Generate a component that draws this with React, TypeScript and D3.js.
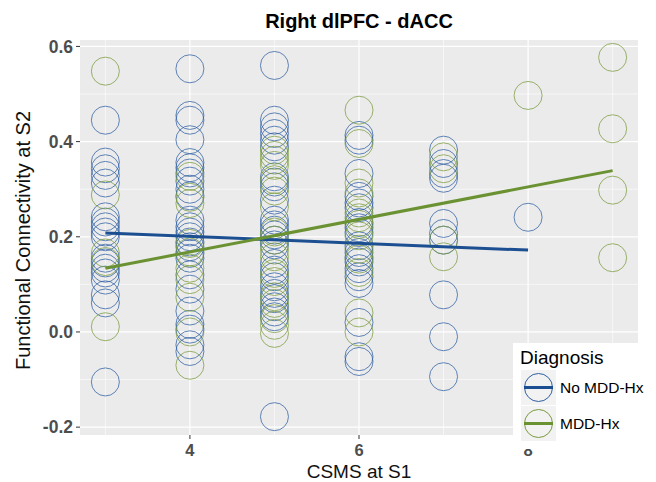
import React from "react";
import * as d3 from "d3";

// CSMS at S1 levels (x) and FC at S2 per level, one list per diagnosis group
const csmsLevels = [3, 4, 5, 6, 7, 8, 9];

const noMddFc = [
  [0.445, 0.357, 0.343, 0.329, 0.313, 0.242, 0.231, 0.221, 0.21, 0.2, 0.155, 0.145, 0.134, 0.124, 0.109, 0.078, 0.061, -0.105],
  [0.553, 0.455, 0.445, 0.404, 0.356, 0.345, 0.334, 0.317, 0.3, 0.286, 0.235, 0.221, 0.21, 0.2, 0.189, 0.179, 0.165, 0.155, 0.12, 0.09, 0.044, 0.016, 0.006, -0.027, -0.041],
  [0.56, 0.445, 0.431, 0.417, 0.403, 0.389, 0.326, 0.315, 0.305, 0.277, 0.235, 0.225, 0.214, 0.204, 0.193, 0.183, 0.144, 0.13, 0.116, 0.095, 0.081, 0.07, 0.053, 0.042, 0.032, -0.178],
  [0.413, 0.403, 0.333, 0.285, 0.271, 0.261, 0.23, 0.219, 0.209, 0.181, 0.167, 0.157, 0.147, 0.133, 0.116, 0.102, 0.02, -0.052, -0.062],
  [0.382, 0.354, 0.333, 0.323, 0.228, 0.207, 0.193, 0.078, -0.01, -0.094],
  [0.241],
  [],
];

const mddFc = [
  [0.548, 0.288, 0.166, 0.148, 0.011],
  [0.327, 0.283, 0.27, 0.186, 0.168, 0.134, 0.11, 0.073, 0.0, -0.07],
  [0.382, 0.371, 0.361, 0.35, 0.32, 0.296, 0.263, 0.21, 0.193, 0.172, 0.158, 0.123, 0.106, 0.074, 0.06, 0.028, 0.014, -0.003],
  [0.466, 0.396, 0.313, 0.292, 0.25, 0.24, 0.226, 0.202, 0.174, 0.153, 0.125, 0.04, 0.0],
  [0.368, 0.343, 0.193, 0.158],
  [0.497],
  [0.577, 0.427, 0.298, 0.156],
];

// fitted lines (endpoints)
const noMddFitX = [3, 8];
const noMddFitY = [0.208, 0.172];
const mddFitX = [3, 9];
const mddFitY = [0.134, 0.339];

const xTicks = [4, 6, 8];
const xMinor = [3, 5, 7, 9];
const yTicks = [-0.2, 0.0, 0.2, 0.4, 0.6];
const yMinor = [-0.1, 0.1, 0.3, 0.5];

const groups = ["No MDD-Hx", "MDD-Hx"];
const pointColors = ["#2f5fa3", "#7a9b3c"];
const lineColors = ["#1c4f91", "#6b9232"];

const W = 656, H = 482;
const panel = {left: 80, top: 40, right: 638, bottom: 435};

export default function App() {
  const x = d3.scaleLinear().domain([2.7, 9.3]).range([panel.left, panel.right]);
  const y = d3.scaleLinear().domain([-0.2165, 0.6135]).range([panel.bottom, panel.top]);

  const pts = (fc: number[][]) =>
    fc.flatMap((vals, i) => vals.map(v => ({cx: x(csmsLevels[i]), cy: y(v)})));
  const noMddPts = pts(noMddFc);
  const mddPts = pts(mddFc);

  const line = d3.line<[number, number]>().x(d => x(d[0])).y(d => y(d[1]));
  const noMddLine = line(noMddFitX.map((v, i) => [v, noMddFitY[i]]));
  const mddLine = line(mddFitX.map((v, i) => [v, mddFitY[i]]));

  const font = "'Liberation Sans', Arial, Helvetica, sans-serif";
  const r = 14;

  return (
    <svg width={W} height={H} style={{position: "absolute", left: 0, top: 0, background: "#fff"}} fontFamily={font}>
      <rect x={panel.left} y={panel.top} width={panel.right - panel.left} height={panel.bottom - panel.top} fill="#ebebeb"/>
      {yMinor.map(v => (
        <line key={"ym" + v} x1={panel.left} x2={panel.right} y1={y(v)} y2={y(v)} stroke="#fff" strokeWidth={0.6}/>
      ))}
      {xMinor.map(v => (
        <line key={"xm" + v} x1={x(v)} x2={x(v)} y1={panel.top} y2={panel.bottom} stroke="#fff" strokeWidth={0.6}/>
      ))}
      {yTicks.map(v => (
        <line key={"yt" + v} x1={panel.left} x2={panel.right} y1={y(v)} y2={y(v)} stroke="#fff" strokeWidth={1.2}/>
      ))}
      {xTicks.map(v => (
        <line key={"xt" + v} x1={x(v)} x2={x(v)} y1={panel.top} y2={panel.bottom} stroke="#fff" strokeWidth={1.2}/>
      ))}

      {noMddPts.map((p, i) => (
        <circle key={"b" + i} cx={p.cx} cy={p.cy} r={r} fill="none" stroke={pointColors[0]} strokeOpacity={0.75} strokeWidth={1}/>
      ))}
      {mddPts.map((p, i) => (
        <circle key={"g" + i} cx={p.cx} cy={p.cy} r={r} fill="none" stroke={pointColors[1]} strokeOpacity={0.75} strokeWidth={1}/>
      ))}

      <path d={noMddLine ?? ""} stroke={lineColors[0]} strokeWidth={3} fill="none"/>
      <path d={mddLine ?? ""} stroke={lineColors[1]} strokeWidth={3} fill="none"/>

      {/* y axis */}
      {yTicks.map(v => (
        <g key={"yl" + v}>
          <line x1={panel.left - 4} x2={panel.left} y1={y(v)} y2={y(v)} stroke="#333"/>
          <text x={panel.left - 7} y={y(v)} dy="0.35em" textAnchor="end" fontSize={17.5} fontWeight="bold" fill="#4d4d4d">
            {d3.format(".1f")(v).replace("−", "-")}
          </text>
        </g>
      ))}
      {/* x axis */}
      {xTicks.map(v => (
        <g key={"xl" + v}>
          <line x1={x(v)} x2={x(v)} y1={panel.bottom} y2={panel.bottom + 4} stroke="#333"/>
          <text x={x(v)} y={panel.bottom + 21} textAnchor="middle" fontSize={16.5} fontWeight="bold" fill="#4d4d4d">{v}</text>
        </g>
      ))}

      <text x={(panel.left + panel.right) / 2} y={28} textAnchor="middle" fontSize={20} fontWeight="bold" fill="#000">
        Right dlPFC - dACC
      </text>
      <text x={(panel.left + panel.right) / 2} y={478} textAnchor="middle" fontSize={19} fill="#111">CSMS at S1</text>
      <text transform={`translate(30,${(panel.top + panel.bottom) / 2 + 3}) rotate(-90)`} textAnchor="middle" fontSize={20} fill="#111">
        Functional Connectivity at S2
      </text>

      {/* legend, overlapping the lower-right of the panel */}
      <rect x={513} y={343} width={W - 513} height={449 - 343} fill="#fff"/>
      <text x={520} y={364} fontSize={19} fill="#000">Diagnosis</text>
      {groups.map((g, i) => {
        const ky = 370 + i * 36;
        return (
          <g key={g}>
            <rect x={521} y={ky} width={35} height={35} fill="#f2f2f2"/>
            <circle cx={538.5} cy={ky + 17.5} r={14} fill="none" stroke={pointColors[i]} strokeWidth={1}/>
            <line x1={524} x2={553} y1={ky + 17.5} y2={ky + 17.5} stroke={lineColors[i]} strokeWidth={3}/>
            <text x={560} y={ky + 17.5} dy="0.35em" fontSize={15.5} fill="#000">{g}</text>
          </g>
        );
      })}
    </svg>
  );
}
